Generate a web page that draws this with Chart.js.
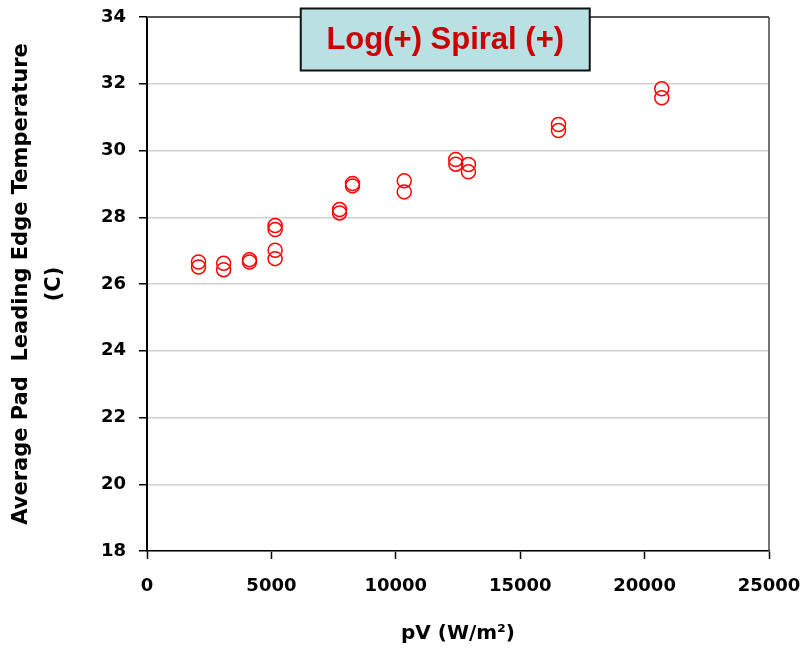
<!DOCTYPE html>
<html>
<head>
<meta charset="utf-8">
<script src="https://cdn.jsdelivr.net/npm/chart.js@4/dist/chart.umd.min.js"></script>
<style>
  html, body { margin: 0; padding: 0; background: #ffffff; }
  #wrap { width: 807px; height: 652px; }
</style>
</head>
<body>
<div id="wrap"><canvas id="c" width="807" height="652"></canvas></div>
<script>
// ---- data ----
const pvValues = [2070, 2070, 3080, 3080, 4120, 4120, 5150, 5150, 5150, 5150,
                  7740, 7740, 8260, 8260, 10340, 10340, 12410, 12410, 12920, 12920,
                  16540, 16540, 20690, 20690];
const tempValues = [26.66, 26.51, 26.62, 26.43, 26.73, 26.66, 27.75, 27.63, 27.01, 26.76,
                    28.23, 28.13, 29.01, 28.94, 29.09, 28.76, 29.73, 29.59, 29.58, 29.36,
                    30.78, 30.60, 31.85, 31.58];
const xTicks = [0, 5000, 10000, 15000, 20000, 25000];
const yTicks = [18, 20, 22, 24, 26, 28, 30, 32, 34];
const chartLabel = 'Log(+) Spiral (+)';
const xTitle = 'pV (W/m\u00B2)';
const yTitle = ['Average Pad  Leading Edge Temperature', '(C)'];

const FONT = '"DejaVu Sans", Arial, sans-serif';
const LABEL_FONT = '"Liberation Sans", Arial, Helvetica, sans-serif';

const points = pvValues.map((v, i) => ({ x: v, y: tempValues[i] }));

const framePlugin = {
  id: 'frame',
  beforeDatasetsDraw(chart) {
    const { ctx, chartArea: a } = chart;
    ctx.save();
    ctx.strokeStyle = '#555555';
    ctx.lineWidth = 2;
    ctx.beginPath();
    ctx.moveTo(a.left, a.top);
    ctx.lineTo(a.right, a.top);
    ctx.stroke();
    ctx.lineWidth = 1.5;
    ctx.strokeStyle = '#444444';
    ctx.beginPath();
    ctx.moveTo(a.right, a.top);
    ctx.lineTo(a.right, a.bottom);
    ctx.stroke();
    ctx.restore();
  }
};

const labelBoxPlugin = {
  id: 'labelBox',
  afterDraw(chart) {
    const { ctx, chartArea: a } = chart;
    const w = a.right - a.left;
    const cx = a.left + w * 0.4795;
    const bw = 289, bh = 62;
    const bx = cx - bw / 2, by = a.top - 8.5;
    ctx.save();
    ctx.fillStyle = '#b9e0e3';
    ctx.fillRect(bx, by, bw, bh);
    ctx.strokeStyle = '#111111';
    ctx.lineWidth = 2;
    ctx.strokeRect(bx, by, bw, bh);
    ctx.fillStyle = '#cc0000';
    ctx.font = 'bold 31px ' + LABEL_FONT;
    ctx.textAlign = 'center';
    ctx.textBaseline = 'middle';
    ctx.fillText(chartLabel, cx, by + bh / 2 + 1);
    ctx.restore();
  }
};

new Chart(document.getElementById('c'), {
  type: 'scatter',
  data: {
    datasets: [{
      data: points,
      pointStyle: 'circle',
      pointRadius: 7,
      pointHoverRadius: 7,
      pointBorderWidth: 1.5,
      borderColor: '#ff0000',
      backgroundColor: 'rgba(0,0,0,0)',
      showLine: false
    }]
  },
  options: {
    responsive: false,
    animation: false,
    layout: { padding: { top: 17, right: 38, left: 0, bottom: 0 } },
    plugins: { legend: { display: false }, tooltip: { enabled: false } },
    scales: {
      x: {
        type: 'linear',
        min: 0, max: 25000,
        afterBuildTicks(scale) { scale.ticks = xTicks.map(v => ({ value: v })); },
        afterFit(scale) { scale.height = 101; scale.paddingLeft = 0; scale.paddingRight = 0; },
        ticks: {
          color: '#000000',
          font: { family: FONT, size: 18, weight: 'bold' },
          padding: 17,
          maxRotation: 0,
          callback: v => String(v)
        },
        grid: { display: true, drawOnChartArea: false, tickLength: 8, tickColor: '#000000', tickWidth: 1.5 },
        border: { display: true, color: '#000000', width: 1.5 },
        title: {
          display: true,
          text: xTitle,
          color: '#000000',
          font: { family: FONT, size: 20, weight: 'bold' },
          padding: { top: 0, bottom: 6 }
        }
      },
      y: {
        type: 'linear',
        min: 18, max: 34,
        afterBuildTicks(scale) { scale.ticks = yTicks.map(v => ({ value: v })); },
        afterFit(scale) { scale.width = 147; scale.paddingTop = 0; scale.paddingBottom = 0; },
        ticks: {
          color: '#000000',
          font: { family: FONT, size: 18, weight: 'bold' },
          padding: 13,
          callback: v => String(v)
        },
        grid: { display: true, color: '#d0d0d0', lineWidth: 1.5, tickLength: 8, tickColor: '#000000', tickWidth: 1.5 },
        border: { display: true, color: '#000000', width: 2 },
        title: {
          display: true,
          text: yTitle,
          color: '#000000',
          font: { family: FONT, size: 21, weight: 'bold', lineHeight: 1.57 },
          padding: { top: 5, bottom: 0 }
        }
      }
    }
  },
  plugins: [framePlugin, labelBoxPlugin]
});
</script>
</body>
</html>
